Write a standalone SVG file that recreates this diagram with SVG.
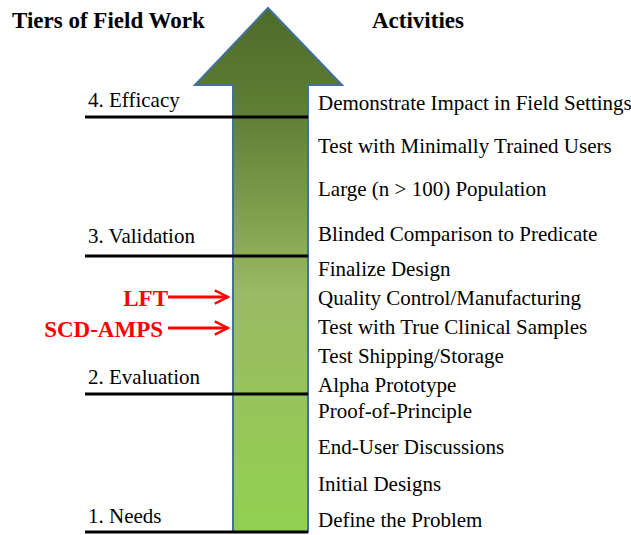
<svg xmlns="http://www.w3.org/2000/svg" width="631" height="535" viewBox="0 0 631 535">
  <defs>
    <linearGradient id="shaftFill" x1="0" y1="8" x2="0" y2="532" gradientUnits="userSpaceOnUse">
      <stop offset="0" stop-color="#4e6b29"/>
      <stop offset="0.2" stop-color="#5e7f35"/>
      <stop offset="0.55" stop-color="#9aba63"/>
      <stop offset="1" stop-color="#92d050"/>
    </linearGradient>
    <marker id="redHead" viewBox="0 0 10 10" refX="9" refY="5" markerWidth="5.5" markerHeight="5.5" orient="auto" markerUnits="strokeWidth">
      <path d="M1,1 L9,5 L1,9" fill="none" stroke="#ff0000" stroke-width="1.4"/>
    </marker>
  </defs>
  <style>
    .title { font-family: "Liberation Serif", "Times New Roman", serif; font-weight: bold; font-size: 23px; fill: #000; }
    .tier { font-family: "Liberation Serif", "Times New Roman", serif; font-size: 21px; fill: #000; }
    .act { font-family: "Liberation Serif", "Times New Roman", serif; font-size: 21px; fill: #000; }
    .red { font-family: "Liberation Serif", "Times New Roman", serif; font-weight: bold; font-size: 23px; fill: #ff0000; }
    .rule { stroke: #000; stroke-width: 3; }
    .pointer { stroke: #ff0000; stroke-width: 3; fill: none; }
  </style>
  <rect width="631" height="535" fill="#fff"/>

  <text class="title" x="12" y="28">Tiers of Field Work</text>
  <text class="title" x="372" y="28">Activities</text>

  <g id="big-arrow">
    <path d="M268,8 L342,85 L308,85 L308,532 L233,532 L233,85 L195,85 Z" fill="url(#shaftFill)" stroke="#41719c" stroke-width="2" stroke-linejoin="miter"/>
  </g>

  <g id="tiers">
    <g id="tier-4">
      <line class="rule" x1="85" y1="117" x2="308" y2="117"/>
      <text class="tier" x="88" y="107">4. Efficacy</text>
    </g>
    <g id="tier-3">
      <line class="rule" x1="85" y1="256" x2="308" y2="256"/>
      <text class="tier" x="88" y="243">3. Validation</text>
    </g>
    <g id="tier-2">
      <line class="rule" x1="85" y1="394" x2="308" y2="394"/>
      <text class="tier" x="88" y="384">2. Evaluation</text>
    </g>
    <g id="tier-1">
      <line class="rule" x1="85" y1="532" x2="308" y2="532"/>
      <text class="tier" x="88" y="523">1. Needs</text>
    </g>
  </g>

  <g id="activities">
    <text class="act" x="318" y="110">Demonstrate Impact in Field Settings</text>
    <text class="act" x="318" y="153">Test with Minimally Trained Users</text>
    <text class="act" x="318" y="196">Large (n &gt; 100) Population</text>
    <text class="act" x="318" y="241">Blinded Comparison to Predicate</text>
    <text class="act" x="318" y="276">Finalize Design</text>
    <text class="act" x="318" y="305">Quality Control/Manufacturing</text>
    <text class="act" x="318" y="334">Test with True Clinical Samples</text>
    <text class="act" x="318" y="363">Test Shipping/Storage</text>
    <text class="act" x="318" y="392">Alpha Prototype</text>
    <text class="act" x="318" y="418">Proof-of-Principle</text>
    <text class="act" x="318" y="454">End-User Discussions</text>
    <text class="act" x="318" y="491">Initial Designs</text>
    <text class="act" x="318" y="527">Define the Problem</text>
  </g>

  <g id="lft">
    <text class="red" x="168" y="306" text-anchor="end">LFT</text>
  </g>
  <g id="scd-amps">
    <text class="red" x="163" y="337" text-anchor="end">SCD-AMPS</text>
  </g>
  <g id="connectors">
    <line class="pointer" x1="168" y1="297" x2="228" y2="297" marker-end="url(#redHead)"/>
    <line class="pointer" x1="168" y1="328" x2="228" y2="328" marker-end="url(#redHead)"/>
  </g>
</svg>
